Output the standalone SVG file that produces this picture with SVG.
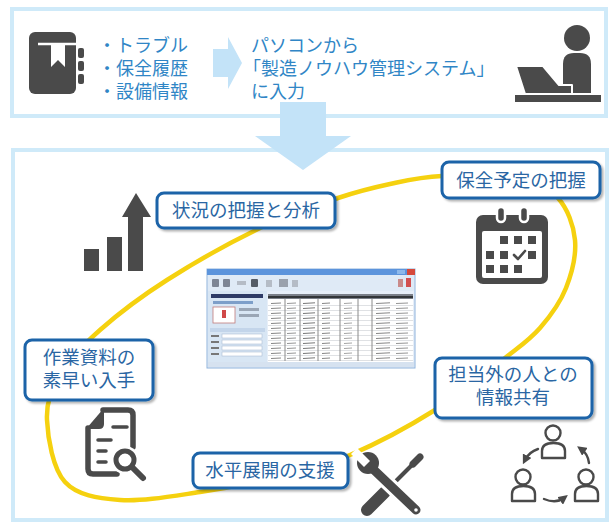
<svg xmlns="http://www.w3.org/2000/svg" width="611" height="524" viewBox="0 0 611 524">
  <defs>
    <style>
      .frame { fill: #ffffff; stroke: #cfeaf9; stroke-width: 4; }
      .flow { fill: #c3e3f8; }
      .intro { font-family: "Liberation Sans", "Noto Sans CJK JP", sans-serif; font-size: 18px; fill: #3086c6; }
      .icon { fill: #4a4a4a; }
      .iconline { fill: none; stroke: #4a4a4a; stroke-linecap: round; stroke-linejoin: round; }
      .ring { fill: none; stroke: #f5d10f; stroke-width: 4.5; }
      .tag rect { fill: #ffffff; stroke: #1b63a8; stroke-width: 3; filter: url(#shadow); }
      .tag text { font-family: "Liberation Sans", "Noto Sans CJK JP", sans-serif; font-size: 18.5px; fill: #2a66a3; text-anchor: middle; }
      .cell { stroke: #8a8a8a; stroke-width: 1; }
    </style>
    <filter id="shadow" x="-10%" y="-20%" width="125%" height="150%">
      <feDropShadow dx="2" dy="2" stdDeviation="1.3" flood-color="#000000" flood-opacity="0.3"/>
    </filter>
    <filter id="soft" x="-2%" y="-2%" width="104%" height="104%">
      <feGaussianBlur stdDeviation="0.45"/>
    </filter>
    <marker id="tip" viewBox="0 0 10 10" refX="5" refY="5" markerWidth="4" markerHeight="4" orient="auto">
      <path d="M0,0 L10,5 L0,10 Z" fill="#4a4a4a"/>
    </marker>
    <pattern id="rows" x="268" y="301" width="145" height="5" patternUnits="userSpaceOnUse">
      <line x1="0" y1="4.5" x2="145" y2="4.5" stroke="#c9ccd2" stroke-width="0.6"/>
      <line x1="3" y1="2.5" x2="13" y2="2" stroke="#777" stroke-width="0.9"/>
      <line x1="19" y1="2.5" x2="28" y2="2" stroke="#888" stroke-width="0.9"/>
      <line x1="35" y1="2.5" x2="47" y2="1.8" stroke="#666" stroke-width="0.9"/>
      <line x1="54" y1="2.5" x2="62" y2="2" stroke="#777" stroke-width="0.9"/>
      <line x1="76" y1="2.5" x2="84" y2="2" stroke="#999" stroke-width="0.9"/>
      <line x1="108" y1="2.5" x2="122" y2="1.8" stroke="#777" stroke-width="0.9"/>
      <line x1="128" y1="2.5" x2="140" y2="2" stroke="#888" stroke-width="0.9"/>
    </pattern>
  </defs>

  <rect width="611" height="524" fill="#ffffff"/>

  <!-- upper panel: paper records keyed into the system -->
  <g id="intro-panel">
    <rect class="frame" x="12" y="9" width="594" height="107"/>
  </g>

  <!-- lower panel -->
  <g id="benefit-panel">
    <rect class="frame" x="13" y="150" width="594" height="370"/>
  </g>

  <!-- flow arrows and the loop joining the benefits -->
  <g id="connectors">
    <path class="flow" d="M213,49 H228 V37 L242,63 L228,89 V77 H213 Z"/>
    <path class="flow" d="M280,102 H326 V136 H351 L303,170 L255,136 H280 Z"/>
    <path class="ring" d="M47,420 C47.8,437.8 52.8,468.7 65,482 C77.2,495.3 97.5,498.3 120,500 C142.5,501.7 173.3,496 200,492 C226.7,488 255,482.2 280,476 C305,469.8 324.2,466 350,455 C375.8,444 409.2,426.2 435,410 C460.8,393.8 487.5,371.7 505,358 C522.5,344.3 529.8,339.7 540,328 C550.2,316.3 560.2,302.7 566,288 C571.8,273.3 576.3,255 575,240 C573.7,225 567.2,208.3 558,198 C548.8,187.7 539.3,181.7 520,178 C500.7,174.3 463.7,175 442,176 C420.3,177 407.3,180.3 390,184 C372.7,187.7 359.7,190.7 338,198 C316.3,205.3 288.5,214.3 260,228 C231.5,241.7 193.7,263 167,280 C140.3,297 117.8,314.2 100,330 C82.2,345.8 68.8,360 60,375 C51.2,390 46.2,402.2 47,420 Z"/>
  </g>

  <!-- notebook icon -->
  <g id="notebook">
    <rect class="icon" x="29" y="32" width="47" height="62" rx="6"/>
    <line x1="38" y1="44" x2="76" y2="44" stroke="#ffffff" stroke-width="2.5"/>
    <path d="M51,45 H65 V67 L58,60 L51,67 Z" fill="#ffffff"/>
    <rect class="icon" x="78" y="48" width="6" height="10" rx="2"/>
    <rect class="icon" x="78" y="61" width="6" height="10" rx="2"/>
    <rect class="icon" x="78" y="74" width="6" height="10" rx="2"/>
  </g>

  <g id="record-list">
    <text class="intro" x="98" y="52">・トラブル</text>
    <text class="intro" x="98" y="75">・保全履歴</text>
    <text class="intro" x="98" y="98">・設備情報</text>
  </g>

  <g id="entry-note">
    <text class="intro" x="251" y="52">パソコンから</text>
    <text class="intro" x="243" y="75">「製造ノウハウ管理システム」</text>
    <text class="intro" x="251" y="98">に入力</text>
  </g>

  <!-- person at a laptop -->
  <g id="operator">
    <circle class="icon" cx="577" cy="38" r="13"/>
    <path class="icon" d="M563,93 V64 Q563,53 574,53 H580 Q591,53 591,64 V93 Z"/>
    <path class="icon" d="M516,66 H543 L559,85 H572 V94 H525 Z" stroke="#ffffff" stroke-width="2" stroke-linejoin="round"/>
    <rect class="icon" x="515" y="95" width="86" height="7"/>
  </g>

  <!-- rising bar chart -->
  <g id="chart-icon">
    <rect class="icon" x="84" y="249" width="15" height="22"/>
    <rect class="icon" x="107" y="237" width="15" height="34"/>
    <path class="icon" d="M128,271 V217 H122 L136,193 L151,217 H143 V271 Z"/>
  </g>

  <!-- calendar -->
  <g id="calendar-icon">
    <rect class="icon" x="476" y="215" width="72" height="69" rx="7"/>
    <rect x="482" y="231" width="60" height="47" rx="2" fill="#ffffff"/>
    <rect class="icon" x="497" y="207" width="8" height="15" rx="4" stroke="#ffffff" stroke-width="2.5"/>
    <rect class="icon" x="520" y="207" width="8" height="15" rx="4" stroke="#ffffff" stroke-width="2.5"/>
    <rect class="icon" x="500" y="236" width="8" height="8"/>
    <rect class="icon" x="514" y="236" width="8" height="8"/>
    <rect class="icon" x="528" y="236" width="8" height="8"/>
    <rect class="icon" x="486" y="251" width="8" height="8"/>
    <rect class="icon" x="500" y="251" width="8" height="8"/>
    <path class="iconline" d="M514,255 L518,259 L525,251" stroke-width="2.6"/>
    <rect class="icon" x="528" y="251" width="8" height="8"/>
    <rect class="icon" x="486" y="265" width="8" height="8"/>
    <rect class="icon" x="500" y="265" width="8" height="8"/>
    <rect class="icon" x="514" y="265" width="8" height="8"/>
  </g>

  <!-- document search -->
  <g id="document-icon">
    <path class="iconline" d="M103,410 H128 Q133,410 133,415 V447 M117,474 H93 Q88,474 88,469 V428" stroke-width="5.5"/>
    <path class="icon" d="M86,429 L104,408 V424 Q104,429 99,429 Z"/>
    <path class="iconline" d="M113,427 H127 M98,440 H111 M98,451 H106 M98,462 H106" stroke-width="3.5"/>
    <circle cx="125" cy="460" r="14" fill="#ffffff"/>
    <circle cx="125" cy="460" r="9" fill="none" stroke="#4a4a4a" stroke-width="5"/>
    <line class="iconline" x1="132" y1="467" x2="143" y2="478" stroke-width="6"/>
  </g>

  <!-- wrench and screwdriver -->
  <g id="tools-icon">
    <line class="iconline" x1="367" y1="510" x2="385" y2="492" stroke-width="12"/>
    <line class="iconline" x1="385" y1="492" x2="413" y2="464" stroke-width="4"/>
    <line class="iconline" x1="413" y1="464" x2="420" y2="457" stroke-width="7"/>
    <line x1="374" y1="470" x2="416" y2="510" stroke="#ffffff" stroke-width="15" stroke-linecap="round"/>
    <line class="iconline" x1="374" y1="470" x2="416" y2="510" stroke-width="9"/>
    <circle class="icon" cx="368" cy="463" r="11"/>
    <path d="M357,448 L370,461 L364,467 L351,454 Z" fill="#ffffff"/>
    <circle cx="416" cy="510" r="1.8" fill="#ffffff"/>
  </g>

  <!-- people sharing information -->
  <g id="people-icon">
    <g class="iconline" stroke-width="2.4">
      <circle cx="553" cy="433" r="7.5"/>
      <path d="M542,458 V451 Q542,443 553.5,443 Q565,443 565,451 V458 Z"/>
      <circle cx="523" cy="477" r="7.5"/>
      <path d="M512,501 V494 Q512,486 523.5,486 Q535,486 535,494 V501 Z"/>
      <circle cx="586" cy="477" r="7.5"/>
      <path d="M575,501 V494 Q575,486 586.5,486 Q598,486 598,494 V501 Z"/>
      <path d="M538,449 Q529,452 525,460" marker-end="url(#tip)"/>
      <path d="M589,463 Q588,454 581,449" marker-end="url(#tip)"/>
      <path d="M544,499 Q556,504 564,498" marker-end="url(#tip)"/>
    </g>
  </g>

  <!-- system window -->
  <g id="system-window" filter="url(#soft)">
    <rect x="207" y="269" width="208" height="99" fill="#e6eef8" stroke="#8fb3dc" stroke-width="1"/>
    <rect x="207" y="269" width="208" height="6" fill="#5b94dc"/>
    <rect x="407" y="269" width="8" height="6" fill="#d64a3a"/>
    <rect x="397" y="270" width="8" height="4" fill="#8db8ea"/>
    <rect x="208" y="275" width="206" height="16" fill="#dfeaf6"/>
    <g fill="#7d8594">
      <rect x="212" y="279" width="7" height="8" rx="1"/>
      <rect x="223" y="279" width="7" height="8" rx="1"/>
      <rect x="237" y="281" width="9" height="4" fill="#b5bcc6"/>
      <rect x="251" y="279" width="7" height="8" rx="1" fill="#555b66"/>
      <rect x="266" y="280" width="6" height="7" fill="#b5bcc6"/>
      <rect x="279" y="279" width="9" height="8" fill="#9aa1ac"/>
      <rect x="292" y="280" width="6" height="7" fill="#b5bcc6"/>
      <rect x="398" y="279" width="5" height="8" fill="#c98a8a"/>
      <rect x="406" y="278" width="5" height="9" fill="#d25050"/>
    </g>
    <rect x="208" y="291" width="59" height="71" fill="#d8e6f4"/>
    <rect x="211" y="294" width="52" height="4" fill="#2d3a66"/>
    <rect x="213" y="301" width="40" height="3" fill="#7d9fc9"/>
    <rect x="213" y="307" width="22" height="16" fill="#ffffff" stroke="#c07a7a" stroke-width="0.8"/>
    <rect x="222" y="310" width="4" height="8" fill="#d04848"/>
    <rect x="239" y="308" width="20" height="3" fill="#9aa6b5"/>
    <rect x="239" y="314" width="20" height="3" fill="#9aa6b5"/>
    <rect x="210" y="328" width="55" height="4" fill="#c3d5ea"/>
    <g fill="#ffffff" stroke="#9fb3cc" stroke-width="0.5">
      <rect x="222" y="334" width="40" height="4"/>
      <rect x="222" y="340" width="40" height="4"/>
      <rect x="222" y="346" width="40" height="4"/>
      <rect x="222" y="352" width="40" height="4"/>
    </g>
    <g fill="#777">
      <rect x="211" y="335" width="8" height="2"/>
      <rect x="211" y="341" width="8" height="2"/>
      <rect x="211" y="347" width="8" height="2"/>
      <rect x="211" y="353" width="8" height="2"/>
    </g>
    <rect x="268" y="294" width="145" height="68" fill="#ffffff"/>
    <rect x="268" y="294" width="145" height="5" fill="#7a7f88"/>
    <rect x="268" y="296" width="145" height="2" fill="#303438"/>
    <rect x="268" y="301" width="145" height="60" fill="url(#rows)"/>
    <g class="cell">
      <line x1="285" y1="299" x2="285" y2="361"/>
      <line x1="300" y1="299" x2="300" y2="361"/>
      <line x1="318" y1="299" x2="318" y2="361"/>
      <line x1="340" y1="299" x2="340" y2="361"/>
      <line x1="358" y1="299" x2="358" y2="361"/>
      <line x1="372" y1="299" x2="372" y2="361"/>
    </g>
    <rect x="208" y="362" width="206" height="5" fill="#d6e2f0"/>
  </g>

  <!-- benefit labels -->
  <g id="label-analysis" class="tag">
    <rect x="157" y="193" width="178" height="35" rx="7"/>
    <text x="246" y="217">状況の把握と分析</text>
  </g>
  <g id="label-schedule" class="tag">
    <rect x="442" y="162" width="158" height="36" rx="7"/>
    <text x="521" y="187">保全予定の把握</text>
  </g>
  <g id="label-sharing" class="tag">
    <rect x="435" y="358" width="157" height="60" rx="7"/>
    <text x="513" y="381">担当外の人との</text>
    <text x="513" y="404">情報共有</text>
  </g>
  <g id="label-documents" class="tag">
    <rect x="25" y="340" width="128" height="60" rx="7"/>
    <text x="89" y="364">作業資料の</text>
    <text x="89" y="387">素早い入手</text>
  </g>
  <g id="label-rollout" class="tag">
    <rect x="193" y="453" width="155" height="35" rx="7"/>
    <text x="270" y="477">水平展開の支援</text>
  </g>
</svg>
